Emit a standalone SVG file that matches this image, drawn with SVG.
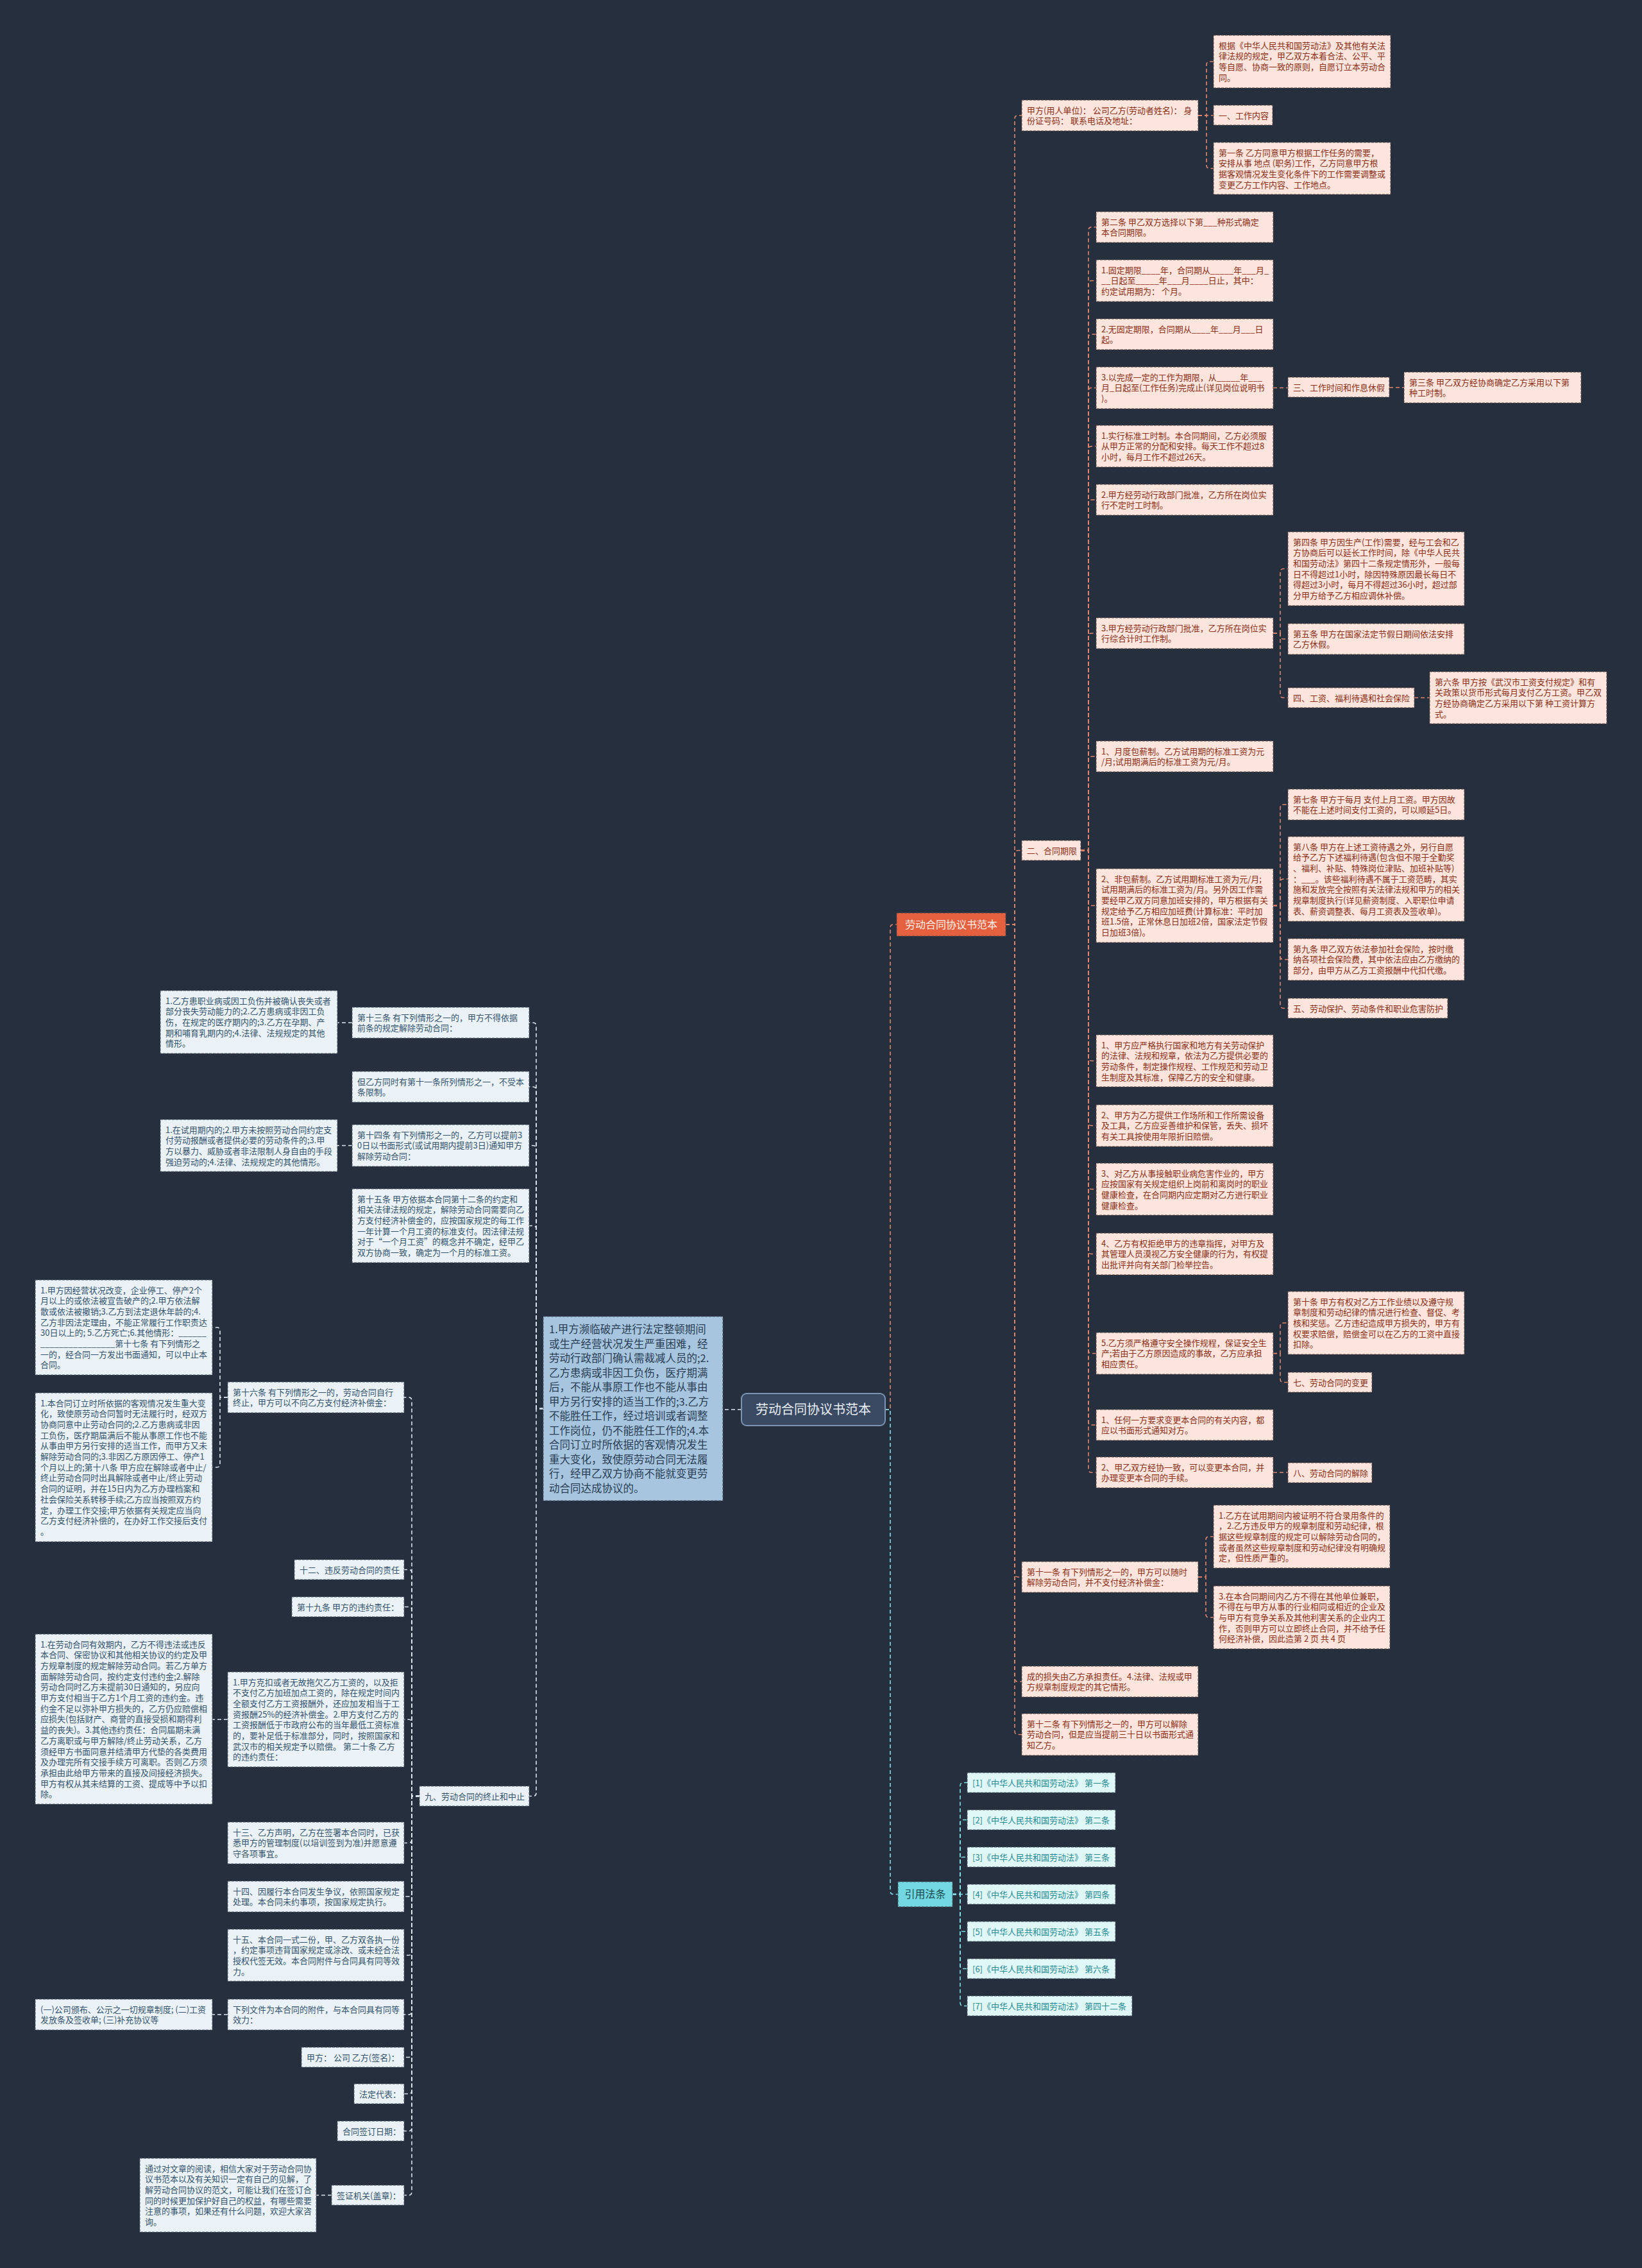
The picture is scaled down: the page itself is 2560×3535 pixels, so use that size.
<svg xmlns="http://www.w3.org/2000/svg" width="2560" height="3535" viewBox="0 0 2560 3535">
<style>
text{font-family:"Noto Sans CJK SC","Noto Sans",sans-serif;font-size:13px}
.o rect{fill:#fde4dc;stroke:#5e4a47;stroke-width:1;stroke-dasharray:4 2}
.o text{fill:#8b2f17}
.b rect{fill:#eaf2f8;stroke:#4d5866;stroke-width:1;stroke-dasharray:4 2}
.b text{fill:#34526e}
.c rect{fill:#e0f7f8;stroke:#4d5866;stroke-width:1;stroke-dasharray:4 2}
.c text{fill:#1f8a93}
.lk path{fill:none;stroke-width:1.6;stroke-dasharray:6 4}
.lo path{stroke:#e0856c}
.lb path{stroke:#dce6ef}
.lc path{stroke:#7fdfe7}
</style>
<rect x="0" y="0" width="2560" height="3535" fill="#262f3e"/>

<g id="connectors" class="lk">
<g class="lo">
<path d="M1380 2197 H1388 V1446 Q1388 1441 1393 1441 H1398"/>
<path d="M1568 1441 H1582 V185 Q1582 180 1587 180 H1593"/>
<path d="M1568 1441 H1582 V1330.5 Q1582 1325.5 1587 1325.5 H1593"/>
<path d="M1568 1441 H1582 V2453 Q1582 2458 1587 2458 H1593"/>
<path d="M1568 1441 H1582 V2616 Q1582 2621 1587 2621 H1593"/>
<path d="M1568 1441 H1582 V2698.5 Q1582 2703.5 1587 2703.5 H1593"/>
<path d="M1868 180 H1881 V101 Q1881 96 1886 96 H1892"/>
<path d="M1868 180 H1892"/>
<path d="M1868 180 H1881 V257.5 Q1881 262.5 1886 262.5 H1892"/>
<path d="M1685 1325.5 H1697 V359 Q1697 354 1702 354 H1709"/>
<path d="M1685 1325.5 H1697 V442.5 Q1697 437.5 1702 437.5 H1709"/>
<path d="M1685 1325.5 H1697 V526 Q1697 521 1702 521 H1709"/>
<path d="M1685 1325.5 H1697 V609.5 Q1697 604.5 1702 604.5 H1709"/>
<path d="M1685 1325.5 H1697 V700.5 Q1697 695.5 1702 695.5 H1709"/>
<path d="M1685 1325.5 H1697 V784 Q1697 779 1702 779 H1709"/>
<path d="M1685 1325.5 H1697 V992 Q1697 987 1702 987 H1709"/>
<path d="M1685 1325.5 H1697 V1184 Q1697 1179 1702 1179 H1709"/>
<path d="M1685 1325.5 H1697 V1406.5 Q1697 1411.5 1702 1411.5 H1709"/>
<path d="M1685 1325.5 H1697 V1648.5 Q1697 1653.5 1702 1653.5 H1709"/>
<path d="M1685 1325.5 H1697 V1749.5 Q1697 1754.5 1702 1754.5 H1709"/>
<path d="M1685 1325.5 H1697 V1848.5 Q1697 1853.5 1702 1853.5 H1709"/>
<path d="M1685 1325.5 H1697 V1949.5 Q1697 1954.5 1702 1954.5 H1709"/>
<path d="M1685 1325.5 H1697 V2104.5 Q1697 2109.5 1702 2109.5 H1709"/>
<path d="M1685 1325.5 H1697 V2216 Q1697 2221 1702 2221 H1709"/>
<path d="M1685 1325.5 H1697 V2290 Q1697 2295 1702 2295 H1709"/>
<path d="M1985 604.5 H2008"/>
<path d="M2166 604 H2189"/>
<path d="M1985 987 H1996 V891.5 Q1996 886.5 2001 886.5 H2008"/>
<path d="M1985 987 H1996 V991 Q1996 996 2001 996 H2008"/>
<path d="M1985 987 H1996 V1082.5 Q1996 1087.5 2001 1087.5 H2008"/>
<path d="M2205 1087.5 H2229"/>
<path d="M1985 1411.5 H1996 V1259 Q1996 1254 2001 1254 H2008"/>
<path d="M1985 1411.5 H1996 V1375 Q1996 1370 2001 1370 H2008"/>
<path d="M1985 1411.5 H1996 V1490.5 Q1996 1495.5 2001 1495.5 H2008"/>
<path d="M1985 1411.5 H1996 V1566.5 Q1996 1571.5 2001 1571.5 H2008"/>
<path d="M1985 2109.5 H1996 V2067 Q1996 2062 2001 2062 H2008"/>
<path d="M1985 2109.5 H1996 V2149.5 Q1996 2154.5 2001 2154.5 H2008"/>
<path d="M1985 2295 H2008"/>
<path d="M1868 2458 H1880 V2400 Q1880 2395 1885 2395 H1892"/>
<path d="M1868 2458 H1880 V2516 Q1880 2521 1885 2521 H1892"/>
</g>
<g class="lc">
<path d="M1380 2197 H1388 V2947.5 Q1388 2952.5 1393 2952.5 H1400"/>
<path d="M1485 2952.5 H1497 V2783.5 Q1497 2778.5 1502 2778.5 H1508"/>
<path d="M1485 2952.5 H1497 V2841.5 Q1497 2836.5 1502 2836.5 H1508"/>
<path d="M1485 2952.5 H1497 V2899.5 Q1497 2894.5 1502 2894.5 H1508"/>
<path d="M1485 2952.5 H1508"/>
<path d="M1485 2952.5 H1497 V3005.5 Q1497 3010.5 1502 3010.5 H1508"/>
<path d="M1485 2952.5 H1497 V3063.5 Q1497 3068.5 1502 3068.5 H1508"/>
<path d="M1485 2952.5 H1497 V3121.5 Q1497 3126.5 1502 3126.5 H1508"/>
</g>
<g class="lb">
<path d="M1156 2197 H1127"/>
<path d="M847 2195.5 H836 V1599 Q836 1594 831 1594 H825"/>
<path d="M847 2195.5 H836 V1699 Q836 1694 831 1694 H825"/>
<path d="M847 2195.5 H836 V1790.5 Q836 1785.5 831 1785.5 H825"/>
<path d="M847 2195.5 H836 V1915.5 Q836 1910.5 831 1910.5 H825"/>
<path d="M847 2195.5 H836 V2794.5 Q836 2799.5 831 2799.5 H825"/>
<path d="M549 1594 H526"/>
<path d="M549 1785.5 H526"/>
<path d="M654 2799.5 H642 V2183 Q642 2178 637 2178 H630"/>
<path d="M654 2799.5 H642 V2451.5 Q642 2446.5 637 2446.5 H630"/>
<path d="M654 2799.5 H642 V2509.5 Q642 2504.5 637 2504.5 H630"/>
<path d="M654 2799.5 H642 V2685 Q642 2680 637 2680 H630"/>
<path d="M654 2799.5 H642 V2867.5 Q642 2872.5 637 2872.5 H630"/>
<path d="M654 2799.5 H642 V2951 Q642 2956 637 2956 H630"/>
<path d="M654 2799.5 H642 V3042.5 Q642 3047.5 637 3047.5 H630"/>
<path d="M654 2799.5 H642 V3135 Q642 3140 637 3140 H630"/>
<path d="M654 2799.5 H642 V3201.5 Q642 3206.5 637 3206.5 H630"/>
<path d="M654 2799.5 H642 V3258.5 Q642 3263.5 637 3263.5 H630"/>
<path d="M654 2799.5 H642 V3316.5 Q642 3321.5 637 3321.5 H630"/>
<path d="M654 2799.5 H642 V3416.5 Q642 3421.5 637 3421.5 H630"/>
<path d="M355 2178 H343 V2074 Q343 2069 338 2069 H331"/>
<path d="M355 2178 H343 V2282 Q343 2287 338 2287 H331"/>
<path d="M355 2680 H331"/>
<path d="M355 3140 H331"/>
<path d="M517 3421.5 H493"/>
</g>
</g>

<g id="center">
<rect x="1156" y="2172" width="224" height="50" rx="8" fill="#3b4a63" stroke="#7d93b2" stroke-width="2"/>
<text x="1268" y="2204" text-anchor="middle" style="font-size:20px;fill:#e6edf5">劳动合同协议书范本</text>
</g>

<g id="branch-right">
<rect x="1398" y="1423" width="170" height="36" fill="#e4603f" stroke="#5e4a47" stroke-width="1" stroke-dasharray="4 2"/>
<text x="1483" y="1446.5" text-anchor="middle" style="font-size:16px;fill:#fdf0ea">劳动合同协议书范本</text>
</g>

<g id="branch-ref">
<rect x="1400" y="2933" width="85" height="39" fill="#72d7e0" stroke="#4d5866" stroke-width="1" stroke-dasharray="4 2"/>
<text x="1442.5" y="2958" text-anchor="middle" style="font-size:16px;fill:#1c4a50">引用法条</text>
</g>

<g id="branch-left">
<rect x="847" y="2052" width="280" height="287" fill="#a7c5de" stroke="#4d5866" stroke-width="1" stroke-dasharray="4 2"/>
<text x="856" y="2078" style="font-size:16.5px;fill:#2a3e55"><tspan x="856">1.甲方濒临破产进行法定整顿期间</tspan><tspan x="856" dy="22.5">或生产经营状况发生严重困难，经</tspan><tspan x="856" dy="22.5">劳动行政部门确认需裁减人员的;2.</tspan><tspan x="856" dy="22.5">乙方患病或非因工负伤，医疗期满</tspan><tspan x="856" dy="22.5">后，不能从事原工作也不能从事由</tspan><tspan x="856" dy="22.5">甲方另行安排的适当工作的;3.乙方</tspan><tspan x="856" dy="22.5">不能胜任工作，经过培训或者调整</tspan><tspan x="856" dy="22.5">工作岗位，仍不能胜任工作的;4.本</tspan><tspan x="856" dy="22.5">合同订立时所依据的客观情况发生</tspan><tspan x="856" dy="22.5">重大变化，致使原劳动合同无法履</tspan><tspan x="856" dy="22.5">行，经甲乙双方协商不能就变更劳</tspan><tspan x="856" dy="22.5">动合同达成协议的。</tspan></text>
</g>

<g id="R1" class="o"><rect x="1593" y="156" width="275" height="48"/><text x="1601" y="176.5"><tspan x="1601">甲方(用人单位)： 公司乙方(劳动者姓名)： 身</tspan><tspan x="1601" dy="16.7">份证号码：  联系电话及地址：</tspan></text></g>
<g id="R2" class="o"><rect x="1892" y="55" width="276" height="82"/><text x="1900" y="75.5"><tspan x="1900">根据《中华人民共和国劳动法》及其他有关法</tspan><tspan x="1900" dy="16.7">律法规的规定，甲乙双方本着合法、公平、平</tspan><tspan x="1900" dy="16.7">等自愿、协商一致的原则，自愿订立本劳动合</tspan><tspan x="1900" dy="16.7">同。</tspan></text></g>
<g id="R3" class="o"><rect x="1892" y="164" width="92" height="31"/><text x="1900" y="184.5">一、工作内容</text></g>
<g id="R4" class="o"><rect x="1892" y="222" width="276" height="81"/><text x="1900" y="242.5"><tspan x="1900">第一条 乙方同意甲方根据工作任务的需要，</tspan><tspan x="1900" dy="16.7">安排从事 地点 (职务)工作，乙方同意甲方根</tspan><tspan x="1900" dy="16.7">据客观情况发生变化条件下的工作需要调整或</tspan><tspan x="1900" dy="16.7">变更乙方工作内容、工作地点。</tspan></text></g>
<g id="R5" class="o"><rect x="1593" y="1310" width="92" height="31"/><text x="1601" y="1330.5">二、合同期限</text></g>

<g id="C1" class="o"><rect x="1709" y="330" width="276" height="48"/><text x="1717" y="350.5"><tspan x="1717">第二条 甲乙双方选择以下第___种形式确定</tspan><tspan x="1717" dy="16.7">本合同期限。</tspan></text></g>
<g id="C2" class="o"><rect x="1709" y="405" width="276" height="65"/><text x="1717" y="425.5"><tspan x="1717">1.固定期限____年，合同期从_____年___月_</tspan><tspan x="1717" dy="16.7">__日起至_____年___月____日止，其中：</tspan><tspan x="1717" dy="16.7">约定试用期为：  个月。</tspan></text></g>
<g id="C3" class="o"><rect x="1709" y="497" width="276" height="48"/><text x="1717" y="517.5"><tspan x="1717">2.无固定期限，合同期从____年___月___日</tspan><tspan x="1717" dy="16.7">起。</tspan></text></g>
<g id="C4" class="o"><rect x="1709" y="572" width="276" height="65"/><text x="1717" y="592.5"><tspan x="1717">3.以完成一定的工作为期限，从_____年___</tspan><tspan x="1717" dy="16.7">月_日起至(工作任务)完成止(详见岗位说明书</tspan><tspan x="1717" dy="16.7">)。</tspan></text></g>
<g id="C5" class="o"><rect x="1709" y="663" width="276" height="65"/><text x="1717" y="683.5"><tspan x="1717">1.实行标准工时制。本合同期间，乙方必须服</tspan><tspan x="1717" dy="16.7">从甲方正常的分配和安排。每天工作不超过8</tspan><tspan x="1717" dy="16.7">小时，每月工作不超过26天。</tspan></text></g>
<g id="C6" class="o"><rect x="1709" y="755" width="276" height="48"/><text x="1717" y="775.5"><tspan x="1717">2.甲方经劳动行政部门批准，乙方所在岗位实</tspan><tspan x="1717" dy="16.7">行不定时工时制。</tspan></text></g>
<g id="C7" class="o"><rect x="1709" y="963" width="276" height="48"/><text x="1717" y="983.5"><tspan x="1717">3.甲方经劳动行政部门批准，乙方所在岗位实</tspan><tspan x="1717" dy="16.7">行综合计时工作制。</tspan></text></g>
<g id="C8" class="o"><rect x="1709" y="1155" width="276" height="48"/><text x="1717" y="1175.5"><tspan x="1717">1、月度包薪制。乙方试用期的标准工资为元</tspan><tspan x="1717" dy="16.7">/月;试用期满后的标准工资为元/月。</tspan></text></g>
<g id="C9" class="o"><rect x="1709" y="1354" width="276" height="115"/><text x="1717" y="1374.5"><tspan x="1717">2、非包薪制。乙方试用期标准工资为元/月;</tspan><tspan x="1717" dy="16.7">试用期满后的标准工资为/月。另外因工作需</tspan><tspan x="1717" dy="16.7">要经甲乙双方同意加班安排的，甲方根据有关</tspan><tspan x="1717" dy="16.7">规定给予乙方相应加班费(计算标准：平时加</tspan><tspan x="1717" dy="16.7">班1.5倍，正常休息日加班2倍，国家法定节假</tspan><tspan x="1717" dy="16.7">日加班3倍)。</tspan></text></g>
<g id="C10" class="o"><rect x="1709" y="1613" width="276" height="81"/><text x="1717" y="1633.5"><tspan x="1717">1、甲方应严格执行国家和地方有关劳动保护</tspan><tspan x="1717" dy="16.7">的法律、法规和规章，依法为乙方提供必要的</tspan><tspan x="1717" dy="16.7">劳动条件，制定操作规程、工作规范和劳动卫</tspan><tspan x="1717" dy="16.7">生制度及其标准，保障乙方的安全和健康。</tspan></text></g>
<g id="C11" class="o"><rect x="1709" y="1722" width="276" height="65"/><text x="1717" y="1742.5"><tspan x="1717">2、甲方为乙方提供工作场所和工作所需设备</tspan><tspan x="1717" dy="16.7">及工具，乙方应妥善维护和保管，丢失、损坏</tspan><tspan x="1717" dy="16.7">有关工具按使用年限折旧赔偿。</tspan></text></g>
<g id="C12" class="o"><rect x="1709" y="1813" width="276" height="81"/><text x="1717" y="1833.5"><tspan x="1717">3、对乙方从事接触职业病危害作业的，甲方</tspan><tspan x="1717" dy="16.7">应按国家有关规定组织上岗前和离岗时的职业</tspan><tspan x="1717" dy="16.7">健康检查，在合同期内应定期对乙方进行职业</tspan><tspan x="1717" dy="16.7">健康检查。</tspan></text></g>
<g id="C13" class="o"><rect x="1709" y="1922" width="276" height="65"/><text x="1717" y="1942.5"><tspan x="1717">4、乙方有权拒绝甲方的违章指挥，对甲方及</tspan><tspan x="1717" dy="16.7">其管理人员漠视乙方安全健康的行为，有权提</tspan><tspan x="1717" dy="16.7">出批评并向有关部门检举控告。</tspan></text></g>
<g id="C14" class="o"><rect x="1709" y="2077" width="276" height="65"/><text x="1717" y="2097.5"><tspan x="1717">5.乙方须严格遵守安全操作规程，保证安全生</tspan><tspan x="1717" dy="16.7">产;若由于乙方原因造成的事故，乙方应承担</tspan><tspan x="1717" dy="16.7">相应责任。</tspan></text></g>
<g id="C15" class="o"><rect x="1709" y="2197" width="276" height="48"/><text x="1717" y="2217.5"><tspan x="1717">1、任何一方要求变更本合同的有关内容，都</tspan><tspan x="1717" dy="16.7">应以书面形式通知对方。</tspan></text></g>
<g id="C16" class="o"><rect x="1709" y="2271" width="276" height="48"/><text x="1717" y="2291.5"><tspan x="1717">2、甲乙双方经协一致，可以变更本合同，并</tspan><tspan x="1717" dy="16.7">办理变更本合同的手续。</tspan></text></g>

<g id="G1" class="o"><rect x="2008" y="588" width="158" height="31"/><text x="2016" y="608.5">三、工作时间和作息休假</text></g>
<g id="G2" class="o"><rect x="2189" y="580" width="276" height="48"/><text x="2197" y="600.5"><tspan x="2197">第三条 甲乙双方经协商确定乙方采用以下第</tspan><tspan x="2197" dy="16.7">种工时制。</tspan></text></g>
<g id="G3" class="o"><rect x="2008" y="829" width="275" height="115"/><text x="2016" y="849.5"><tspan x="2016">第四条 甲方因生产(工作)需要，经与工会和乙</tspan><tspan x="2016" dy="16.7">方协商后可以延长工作时间，除《中华人民共</tspan><tspan x="2016" dy="16.7">和国劳动法》第四十二条规定情形外，一般每</tspan><tspan x="2016" dy="16.7">日不得超过1小时，除因特殊原因最长每日不</tspan><tspan x="2016" dy="16.7">得超过3小时，每月不得超过36小时，超过部</tspan><tspan x="2016" dy="16.7">分甲方给予乙方相应调休补偿。</tspan></text></g>
<g id="G4" class="o"><rect x="2008" y="972" width="275" height="48"/><text x="2016" y="992.5"><tspan x="2016">第五条 甲方在国家法定节假日期间依法安排</tspan><tspan x="2016" dy="16.7">乙方休假。</tspan></text></g>
<g id="G5" class="o"><rect x="2008" y="1072" width="197" height="31"/><text x="2016" y="1092.5">四、工资、福利待遇和社会保险</text></g>
<g id="G6" class="o"><rect x="2229" y="1047" width="276" height="81"/><text x="2237" y="1067.5"><tspan x="2237">第六条 甲方按《武汉市工资支付规定》和有</tspan><tspan x="2237" dy="16.7">关政策以货币形式每月支付乙方工资。甲乙双</tspan><tspan x="2237" dy="16.7">方经协商确定乙方采用以下第 种工资计算方</tspan><tspan x="2237" dy="16.7">式。</tspan></text></g>
<g id="G7" class="o"><rect x="2008" y="1230" width="275" height="48"/><text x="2016" y="1250.5"><tspan x="2016">第七条 甲方于每月 支付上月工资。甲方因故</tspan><tspan x="2016" dy="16.7">不能在上述时间支付工资的，可以顺延5日。</tspan></text></g>
<g id="G8" class="o"><rect x="2008" y="1304" width="275" height="132"/><text x="2016" y="1324.5"><tspan x="2016">第八条 甲方在上述工资待遇之外，另行自愿</tspan><tspan x="2016" dy="16.7">给予乙方下述福利待遇(包含但不限于全勤奖</tspan><tspan x="2016" dy="16.7">、福利、补贴、特殊岗位津贴、加班补贴等)</tspan><tspan x="2016" dy="16.7">：___。该些福利待遇不属于工资范畴，其实</tspan><tspan x="2016" dy="16.7">施和发放完全按照有关法律法规和甲方的相关</tspan><tspan x="2016" dy="16.7">规章制度执行(详见薪资制度、入职职位申请</tspan><tspan x="2016" dy="16.7">表、薪资调整表、每月工资表及签收单)。</tspan></text></g>
<g id="G9" class="o"><rect x="2008" y="1463" width="275" height="65"/><text x="2016" y="1483.5"><tspan x="2016">第九条 甲乙双方依法参加社会保险，按时缴</tspan><tspan x="2016" dy="16.7">纳各项社会保险费，其中依法应由乙方缴纳的</tspan><tspan x="2016" dy="16.7">部分，由甲方从乙方工资报酬中代扣代缴。</tspan></text></g>
<g id="G10" class="o"><rect x="2008" y="1556" width="249" height="31"/><text x="2016" y="1576.5">五、劳动保护、劳动条件和职业危害防护</text></g>
<g id="G11" class="o"><rect x="2008" y="2013" width="275" height="98"/><text x="2016" y="2033.5"><tspan x="2016">第十条 甲方有权对乙方工作业绩以及遵守规</tspan><tspan x="2016" dy="16.7">章制度和劳动纪律的情况进行检查、督促、考</tspan><tspan x="2016" dy="16.7">核和奖惩。乙方违纪造成甲方损失的，甲方有</tspan><tspan x="2016" dy="16.7">权要求赔偿，赔偿金可以在乙方的工资中直接</tspan><tspan x="2016" dy="16.7">扣除。</tspan></text></g>
<g id="G12" class="o"><rect x="2008" y="2139" width="131" height="31"/><text x="2016" y="2159.5">七、劳动合同的变更</text></g>
<g id="G13" class="o"><rect x="2008" y="2280" width="131" height="31"/><text x="2016" y="2300.5">八、劳动合同的解除</text></g>

<g id="R6" class="o"><rect x="1593" y="2434" width="275" height="48"/><text x="1601" y="2454.5"><tspan x="1601">第十一条 有下列情形之一的，甲方可以随时</tspan><tspan x="1601" dy="16.7">解除劳动合同，并不支付经济补偿金：</tspan></text></g>
<g id="R7" class="o"><rect x="1892" y="2346" width="275" height="98"/><text x="1900" y="2366.5"><tspan x="1900">1.乙方在试用期间内被证明不符合录用条件的</tspan><tspan x="1900" dy="16.7">，2.乙方违反甲方的规章制度和劳动纪律，根</tspan><tspan x="1900" dy="16.7">据这些规章制度的规定可以解除劳动合同的，</tspan><tspan x="1900" dy="16.7">或者虽然这些规章制度和劳动纪律没有明确规</tspan><tspan x="1900" dy="16.7">定，但性质严重的。</tspan></text></g>
<g id="R8" class="o"><rect x="1892" y="2472" width="275" height="98"/><text x="1900" y="2492.5"><tspan x="1900">3.在本合同期间内乙方不得在其他单位兼职，</tspan><tspan x="1900" dy="16.7">不得在与甲方从事的行业相同或相近的企业及</tspan><tspan x="1900" dy="16.7">与甲方有竞争关系及其他利害关系的企业内工</tspan><tspan x="1900" dy="16.7">作，否则甲方可以立即终止合同，并不给予任</tspan><tspan x="1900" dy="16.7">何经济补偿，因此造第 2 页 共 4 页</tspan></text></g>
<g id="R9" class="o"><rect x="1593" y="2597" width="275" height="48"/><text x="1601" y="2617.5"><tspan x="1601">成的损失由乙方承担责任。4.法律、法规或甲</tspan><tspan x="1601" dy="16.7">方规章制度规定的其它情形。</tspan></text></g>
<g id="R10" class="o"><rect x="1593" y="2671" width="275" height="65"/><text x="1601" y="2691.5"><tspan x="1601">第十二条 有下列情形之一的，甲方可以解除</tspan><tspan x="1601" dy="16.7">劳动合同，但是应当提前三十日以书面形式通</tspan><tspan x="1601" dy="16.7">知乙方。</tspan></text></g>

<g id="F1" class="c"><rect x="1508" y="2763" width="231" height="31"/><text x="1516" y="2783.5">[1]《中华人民共和国劳动法》 第一条</text></g>
<g id="F2" class="c"><rect x="1508" y="2821" width="231" height="31"/><text x="1516" y="2841.5">[2]《中华人民共和国劳动法》 第二条</text></g>
<g id="F3" class="c"><rect x="1508" y="2879" width="231" height="31"/><text x="1516" y="2899.5">[3]《中华人民共和国劳动法》 第三条</text></g>
<g id="F4" class="c"><rect x="1508" y="2937" width="231" height="31"/><text x="1516" y="2957.5">[4]《中华人民共和国劳动法》 第四条</text></g>
<g id="F5" class="c"><rect x="1508" y="2995" width="231" height="31"/><text x="1516" y="3015.5">[5]《中华人民共和国劳动法》 第五条</text></g>
<g id="F6" class="c"><rect x="1508" y="3053" width="231" height="31"/><text x="1516" y="3073.5">[6]《中华人民共和国劳动法》 第六条</text></g>
<g id="F7" class="c"><rect x="1508" y="3111" width="257" height="31"/><text x="1516" y="3131.5">[7]《中华人民共和国劳动法》 第四十二条</text></g>

<g id="B1" class="b"><rect x="549" y="1570" width="276" height="48"/><text x="557" y="1590.5"><tspan x="557">第十三条 有下列情形之一的，甲方不得依据</tspan><tspan x="557" dy="16.7">前条的规定解除劳动合同：</tspan></text></g>
<g id="B2" class="b"><rect x="250" y="1544" width="276" height="98"/><text x="258" y="1564.5"><tspan x="258">1.乙方患职业病或因工负伤并被确认丧失或者</tspan><tspan x="258" dy="16.7">部分丧失劳动能力的;2.乙方患病或非因工负</tspan><tspan x="258" dy="16.7">伤，在规定的医疗期内的;3.乙方在孕期、产</tspan><tspan x="258" dy="16.7">期和哺育乳期内的;4.法律、法规规定的其他</tspan><tspan x="258" dy="16.7">情形。</tspan></text></g>
<g id="B3" class="b"><rect x="549" y="1670" width="276" height="48"/><text x="557" y="1690.5"><tspan x="557">但乙方同时有第十一条所列情形之一，不受本</tspan><tspan x="557" dy="16.7">条限制。</tspan></text></g>
<g id="B4" class="b"><rect x="549" y="1753" width="276" height="65"/><text x="557" y="1773.5"><tspan x="557">第十四条 有下列情形之一的，乙方可以提前3</tspan><tspan x="557" dy="16.7">0日以书面形式(或试用期内提前3日)通知甲方</tspan><tspan x="557" dy="16.7">解除劳动合同：</tspan></text></g>
<g id="B5" class="b"><rect x="250" y="1745" width="276" height="81"/><text x="258" y="1765.5"><tspan x="258">1.在试用期内的;2.甲方未按照劳动合同约定支</tspan><tspan x="258" dy="16.7">付劳动报酬或者提供必要的劳动条件的;3.甲</tspan><tspan x="258" dy="16.7">方以暴力、威胁或者非法限制人身自由的手段</tspan><tspan x="258" dy="16.7">强迫劳动的;4.法律、法规规定的其他情形。</tspan></text></g>
<g id="B6" class="b"><rect x="549" y="1853" width="276" height="115"/><text x="557" y="1873.5"><tspan x="557">第十五条 甲方依据本合同第十二条的约定和</tspan><tspan x="557" dy="16.7">相关法律法规的规定，解除劳动合同需要向乙</tspan><tspan x="557" dy="16.7">方支付经济补偿金的，应按国家规定的每工作</tspan><tspan x="557" dy="16.7">一年计算一个月工资的标准支付。因法律法规</tspan><tspan x="557" dy="16.7">对于“一个月工资”的概念并不确定，经甲乙</tspan><tspan x="557" dy="16.7">双方协商一致，确定为一个月的标准工资。</tspan></text></g>
<g id="B7" class="b"><rect x="654" y="2784" width="171" height="31"/><text x="662" y="2804.5">九、劳动合同的终止和中止</text></g>
<g id="B8" class="b"><rect x="355" y="2154" width="275" height="48"/><text x="363" y="2174.5"><tspan x="363">第十六条 有下列情形之一的，劳动合同自行</tspan><tspan x="363" dy="16.7">终止，甲方可以不向乙方支付经济补偿金：</tspan></text></g>
<g id="B9" class="b"><rect x="55" y="1995" width="276" height="148"/><text x="63" y="2015.5"><tspan x="63">1.甲方因经营状况改变，企业停工、停产2个</tspan><tspan x="63" dy="16.7">月以上的或依法被宣告破产的;2.甲方依法解</tspan><tspan x="63" dy="16.7">散或依法被撤销;3.乙方到法定退休年龄的;4.</tspan><tspan x="63" dy="16.7">乙方非因法定理由，不能正常履行工作职责达</tspan><tspan x="63" dy="16.7">30日以上的; 5.乙方死亡;6.其他情形：______</tspan><tspan x="63" dy="16.7">________________第十七条 有下列情形之</tspan><tspan x="63" dy="16.7">一的，经合同一方发出书面通知，可以中止本</tspan><tspan x="63" dy="16.7">合同。</tspan></text></g>
<g id="B10" class="b"><rect x="55" y="2171" width="276" height="232"/><text x="63" y="2191.5"><tspan x="63">1.本合同订立时所依据的客观情况发生重大变</tspan><tspan x="63" dy="16.7">化，致使原劳动合同暂时无法履行时，经双方</tspan><tspan x="63" dy="16.7">协商同意中止劳动合同的;2.乙方患病或非因</tspan><tspan x="63" dy="16.7">工负伤，医疗期届满后不能从事原工作也不能</tspan><tspan x="63" dy="16.7">从事由甲方另行安排的适当工作，而甲方又未</tspan><tspan x="63" dy="16.7">解除劳动合同的;3.非因乙方原因停工、停产1</tspan><tspan x="63" dy="16.7">个月以上的;第十八条 甲方应在解除或者中止/</tspan><tspan x="63" dy="16.7">终止劳动合同时出具解除或者中止/终止劳动</tspan><tspan x="63" dy="16.7">合同的证明，并在15日内为乙方办理档案和</tspan><tspan x="63" dy="16.7">社会保险关系转移手续;乙方应当按照双方约</tspan><tspan x="63" dy="16.7">定，办理工作交接;甲方依据有关规定应当向</tspan><tspan x="63" dy="16.7">乙方支付经济补偿的，在办好工作交接后支付</tspan><tspan x="63" dy="16.7">。</tspan></text></g>
<g id="B11" class="b"><rect x="459" y="2431" width="171" height="31"/><text x="467" y="2451.5">十二、违反劳动合同的责任</text></g>
<g id="B12" class="b"><rect x="455" y="2489" width="175" height="31"/><text x="463" y="2509.5">第十九条 甲方的违约责任：</text></g>
<g id="B13" class="b"><rect x="355" y="2606" width="275" height="148"/><text x="363" y="2626.5"><tspan x="363">1.甲方克扣或者无故拖欠乙方工资的，以及拒</tspan><tspan x="363" dy="16.7">不支付乙方加班加点工资的，除在规定时间内</tspan><tspan x="363" dy="16.7">全额支付乙方工资报酬外，还应加发相当于工</tspan><tspan x="363" dy="16.7">资报酬25%的经济补偿金。2.甲方支付乙方的</tspan><tspan x="363" dy="16.7">工资报酬低于市政府公布的当年最低工资标准</tspan><tspan x="363" dy="16.7">的，要补足低于标准部分，同时，按照国家和</tspan><tspan x="363" dy="16.7">武汉市的相关规定予以赔偿。 第二十条 乙方</tspan><tspan x="363" dy="16.7">的违约责任：</tspan></text></g>
<g id="B14" class="b"><rect x="55" y="2547" width="276" height="265"/><text x="63" y="2567.5"><tspan x="63">1.在劳动合同有效期内，乙方不得违法或违反</tspan><tspan x="63" dy="16.7">本合同、保密协议和其他相关协议的约定及甲</tspan><tspan x="63" dy="16.7">方规章制度的规定解除劳动合同。若乙方单方</tspan><tspan x="63" dy="16.7">面解除劳动合同，按约定支付违约金;2.解除</tspan><tspan x="63" dy="16.7">劳动合同时乙方未提前30日通知的，另应向</tspan><tspan x="63" dy="16.7">甲方支付相当于乙方1个月工资的违约金。违</tspan><tspan x="63" dy="16.7">约金不足以弥补甲方损失的，乙方仍应赔偿相</tspan><tspan x="63" dy="16.7">应损失(包括财产、商誉的直接受损和期得利</tspan><tspan x="63" dy="16.7">益的丧失)。3.其他违约责任：合同届期未满</tspan><tspan x="63" dy="16.7">乙方离职或与甲方解除/终止劳动关系，乙方</tspan><tspan x="63" dy="16.7">须经甲方书面同意并结清甲方代垫的各类费用</tspan><tspan x="63" dy="16.7">及办理完所有交接手续方可离职。否则乙方须</tspan><tspan x="63" dy="16.7">承担由此给甲方带来的直接及间接经济损失。</tspan><tspan x="63" dy="16.7">甲方有权从其未结算的工资、提成等中予以扣</tspan><tspan x="63" dy="16.7">除。</tspan></text></g>
<g id="B15" class="b"><rect x="355" y="2840" width="275" height="65"/><text x="363" y="2860.5"><tspan x="363">十三、乙方声明，乙方在签署本合同时，已获</tspan><tspan x="363" dy="16.7">悉甲方的管理制度(以培训签到为准)并愿意遵</tspan><tspan x="363" dy="16.7">守各项事宜。</tspan></text></g>
<g id="B16" class="b"><rect x="355" y="2932" width="275" height="48"/><text x="363" y="2952.5"><tspan x="363">十四、因履行本合同发生争议，依照国家规定</tspan><tspan x="363" dy="16.7">处理。本合同未约事项，按国家规定执行。</tspan></text></g>
<g id="B17" class="b"><rect x="355" y="3007" width="275" height="81"/><text x="363" y="3027.5"><tspan x="363">十五、本合同一式二份，甲、乙方双各执一份</tspan><tspan x="363" dy="16.7">，约定事项违背国家规定或涂改、或未经合法</tspan><tspan x="363" dy="16.7">授权代签无效。本合同附件与合同具有同等效</tspan><tspan x="363" dy="16.7">力。</tspan></text></g>
<g id="B18" class="b"><rect x="355" y="3116" width="275" height="48"/><text x="363" y="3136.5"><tspan x="363">下列文件为本合同的附件，与本合同具有同等</tspan><tspan x="363" dy="16.7">效力：</tspan></text></g>
<g id="B19" class="b"><rect x="55" y="3116" width="276" height="48"/><text x="63" y="3136.5"><tspan x="63">(一)公司颁布、公示之一切规章制度; (二)工资</tspan><tspan x="63" dy="16.7">发放条及签收单; (三)补充协议等</tspan></text></g>
<g id="B20" class="b"><rect x="470" y="3191" width="160" height="31"/><text x="478" y="3211.5">甲方：  公司 乙方(签名)：</text></g>
<g id="B21" class="b"><rect x="552" y="3248" width="78" height="31"/><text x="560" y="3268.5">法定代表：</text></g>
<g id="B22" class="b"><rect x="526" y="3306" width="104" height="31"/><text x="534" y="3326.5">合同签订日期：</text></g>
<g id="B23" class="b"><rect x="517" y="3406" width="113" height="31"/><text x="525" y="3426.5">签证机关(盖章)：</text></g>
<g id="B24" class="b"><rect x="218" y="3364" width="275" height="115"/><text x="226" y="3384.5"><tspan x="226">通过对文章的阅读，相信大家对于劳动合同协</tspan><tspan x="226" dy="16.7">议书范本以及有关知识一定有自己的见解，了</tspan><tspan x="226" dy="16.7">解劳动合同协议的范文，可能让我们在签订合</tspan><tspan x="226" dy="16.7">同的时候更加保护好自己的权益，有哪些需要</tspan><tspan x="226" dy="16.7">注意的事项，如果还有什么问题，欢迎大家咨</tspan><tspan x="226" dy="16.7">询。</tspan></text></g>
</svg>
